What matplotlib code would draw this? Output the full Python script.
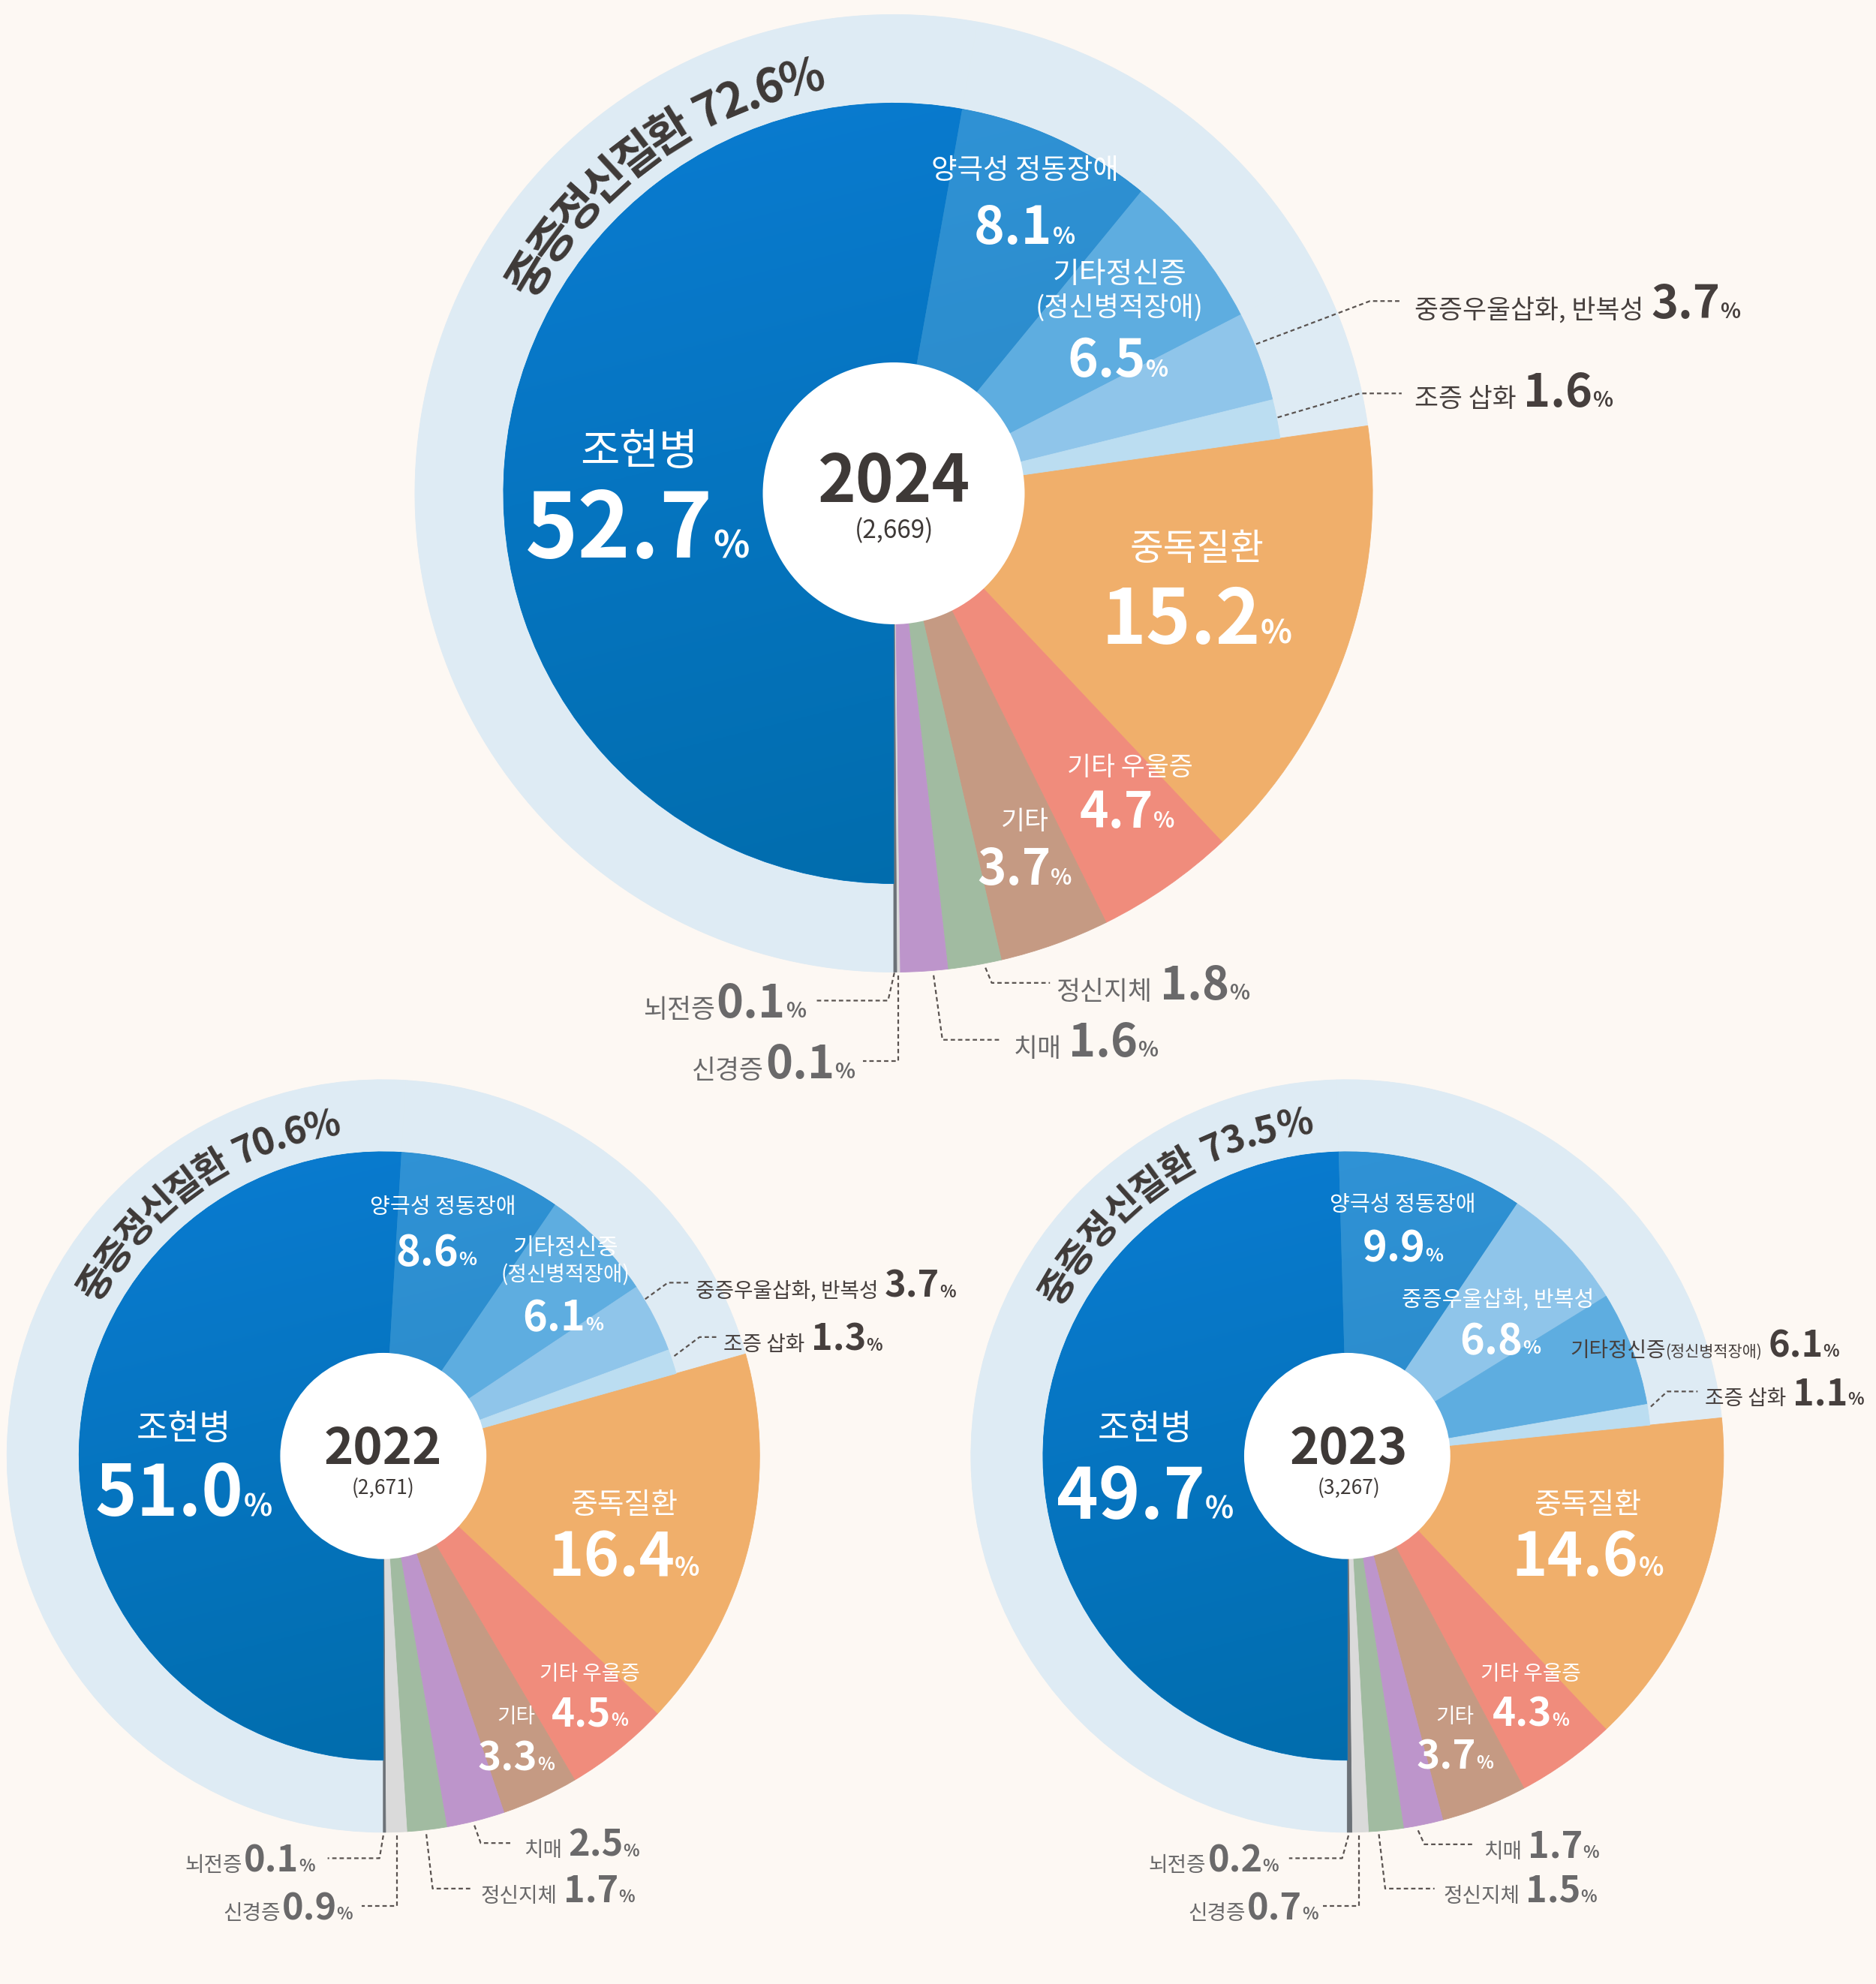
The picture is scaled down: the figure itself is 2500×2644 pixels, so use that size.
import numpy as np
import matplotlib
matplotlib.use('Agg')
import matplotlib.pyplot as plt
from matplotlib.font_manager import FontProperties
from matplotlib.colors import LinearSegmentedColormap

# ---------------- data ----------------
years = ['2022', '2023', '2024']
totals_n = ['2,671', '3,267', '2,669']
severe_share = [70.6, 73.5, 72.6]

cats_2022 = ['조현병', '양극성 정동장애', '기타정신증', '중증우울삽화', '조증 삽화',
             '중독질환', '기타 우울증', '기타', '치매', '정신지체', '신경증', '뇌전증']
vals_2022 = [51.0, 8.6, 6.1, 3.7, 1.3, 16.4, 4.5, 3.3, 2.5, 1.7, 0.9, 0.1]

cats_2023 = ['조현병', '양극성 정동장애', '중증우울삽화', '기타정신증', '조증 삽화',
             '중독질환', '기타 우울증', '기타', '치매', '정신지체', '신경증', '뇌전증']
vals_2023 = [49.7, 9.9, 6.8, 6.1, 1.1, 14.6, 4.3, 3.7, 1.7, 1.5, 0.7, 0.2]

cats_2024 = ['조현병', '양극성 정동장애', '기타정신증', '중증우울삽화', '조증 삽화',
             '중독질환', '기타 우울증', '기타', '정신지체', '치매', '신경증', '뇌전증']
vals_2024 = [52.7, 8.1, 6.5, 3.7, 1.6, 15.2, 4.7, 3.7, 1.8, 1.6, 0.1, 0.1]

n_severe = 5

# ---------------- style ----------------
W, H = 2500, 2644
S = 2500 / 1483.0
FAM = ['Noto Sans CJK KR', 'DejaVu Sans']
plt.rcParams['font.family'] = FAM

BG = '#FDF8F3'
RING = '#DEEBF4'
WHITE = '#FFFFFF'
DARK = '#3E3937'
SIDE = '#463F3D'
GRAY = '#6A696A'
LEAD = '#5A5350'
COL = {
    '조현병': '#0077C6',
    '양극성 정동장애': '#2A8CCF',
    '기타정신증': '#5EADE0',
    '중증우울삽화': '#8FC5EA',
    '조증 삽화': '#BBDDF1',
    '중독질환': '#F0AF6B',
    '기타 우울증': '#F08C7C',
    '기타': '#C59A83',
    '정신지체': '#A1BBA1',
    '치매': '#BD95CB',
    '신경증': '#DADADA',
    '뇌전증': '#6B7177',
}

fig = plt.figure(figsize=(25, 26.44), dpi=100)
fig.patch.set_facecolor(BG)
ax = fig.add_axes([0, 0, 1, 1])
ax.set_facecolor(BG)
renderer = fig.canvas.get_renderer()


def fprop(size, weight):
    return FontProperties(family=FAM, size=size, weight=weight)


def tw(s, size, weight):
    w, h, d = renderer.get_text_width_height_descent(s, fprop(size, weight), ismath=False)
    return w


def part_width(p):
    if isinstance(p, (int, float)):
        return p
    return tw(p[0], p[1], p[2])


def txt(x, y, parts, ha='center'):
    widths = [part_width(p) for p in parts]
    total = sum(widths)
    X = x * S
    if ha == 'center':
        x0 = X - total / 2
    elif ha == 'right':
        x0 = X - total
    else:
        x0 = X
    big = max(p[1] for p in parts if not isinstance(p, (int, float)))
    base = H - (y * S + 0.365 * big * 100 / 72)
    for p, wd in zip(parts, widths):
        if not isinstance(p, (int, float)):
            ax.text(x0, base, p[0], fontsize=p[1], fontweight=p[2], color=p[3],
                    ha='left', va='baseline', fontfamily=FAM, zorder=6)
        x0 += wd


def curved(cx, cy, r, a0, a1, text, size, color, weight='heavy'):
    em = size * 100 / 72
    advs = [0.30 * em if ch == ' ' else tw(ch, size, weight) for ch in text]
    advs = np.array(advs)
    cs = np.cumsum(advs) - advs / 2
    span = cs[-1] - cs[0]
    rb = r * S - 0.37 * em
    CX, CY = cx * S, H - cy * S
    for ch, c in zip(text, cs):
        if ch == ' ':
            continue
        a = a0 - (c - cs[0]) / span * (a0 - a1)
        t = np.deg2rad(a)
        ax.text(CX + rb * np.cos(t), CY + rb * np.sin(t), ch, rotation=a - 90,
                rotation_mode='anchor', ha='center', va='baseline', fontsize=size,
                fontweight=weight, color=color, fontfamily=FAM, zorder=6)


def leader(pts):
    xs = [p[0] * S for p in pts]
    ys = [H - p[1] * S for p in pts]
    ax.plot(xs, ys, color=LEAD, lw=1.6, ls=(0, (2.6, 1.8)), zorder=5)


def grad(patch, CX, CY, R, c_hi, c_lo):
    cmap = LinearSegmentedColormap.from_list('g', [c_lo, c_hi])
    yy, xx = np.mgrid[0:1:200j, 0:1:200j]
    g = 0.8 * yy + 0.2 * (1 - xx)
    im = ax.imshow(g, extent=[CX - R, CX + R, CY - R, CY + R], origin='lower',
                   cmap=cmap, aspect='auto', zorder=1.5, interpolation='bilinear')
    im.set_clip_path(patch)


def seal(wedges):
    for w in wedges:
        fc = w.get_facecolor()
        if fc[3] > 0:
            w.set_edgecolor(fc)
            w.set_linewidth(0.6)
        else:
            w.set_edgecolor('none')


def donut(cx, cy, r_ring, r_sev, r_hole, cats, vals):
    CX, CY = cx * S, H - cy * S
    Rr, Rs, Rh = r_ring * S, r_sev * S, r_hole * S
    outer = [RING if i < n_severe else COL[c] for i, c in enumerate(cats)]
    w1, _ = ax.pie(vals, radius=Rr, center=(CX, CY), startangle=270, counterclock=False,
                   colors=outer, wedgeprops=dict(linewidth=0), frame=True)
    seal(w1)
    inner = [COL[c] if i < n_severe else 'none' for i, c in enumerate(cats)]
    w2, _ = ax.pie(vals, radius=Rs, center=(CX, CY), startangle=270, counterclock=False,
                   colors=inner, wedgeprops=dict(linewidth=0), frame=True)
    seal(w2)
    grad(w2[0], CX, CY, Rs, '#0A7CD2', '#006BA9')
    grad(w2[1], CX, CY, Rs, '#3194D8', '#2483BF')
    hole, _ = ax.pie([1], radius=Rh, center=(CX, CY), colors=[WHITE],
                     wedgeprops=dict(linewidth=0), frame=True)
    for h in hole:
        h.set_zorder(3)


def numparts(v, size, color, ratio=0.45):
    return [(f'{v:.1f}', size, 'bold', color), 0,
            ('%', size * ratio, 'bold', color)]


# ---------------- 2024 ----------------
c24 = (706.5, 390)
donut(*c24, 378.5, 308.5, 103.5, cats_2024, vals_2024)
v24 = dict(zip(cats_2024, vals_2024))
curved(*c24, 338, 148.8, 102.4, f'중증정신질환 {severe_share[2]:.1f}%', 45, DARK)
txt(707, 378, [(years[2], 62, 'heavy', DARK)])
txt(707, 418, [(f'({totals_n[2]})', 24, 'normal', DARK)])
txt(810, 133, [('양극성 정동장애', 27, 'medium', WHITE)])
txt(810, 178, numparts(v24['양극성 정동장애'], 50, WHITE))
txt(885, 215, [('기타정신증', 28, 'medium', WHITE)])
txt(885, 242, [('(정신병적장애)', 26, 'medium', WHITE)])
txt(884, 283, numparts(v24['기타정신증'], 50, WHITE))
txt(505, 355, [('조현병', 41, 'medium', WHITE)])
txt(504, 415, numparts(v24['조현병'], 86, WHITE, 0.42))
txt(946, 432, [('중독질환', 35, 'medium', WHITE)])
txt(946, 487, numparts(v24['중독질환'], 73, WHITE, 0.43))
txt(893, 605, [('기타 우울증', 25, 'medium', WHITE)])
txt(891, 640, numparts(v24['기타 우울증'], 47, WHITE))
txt(810, 648, [('기타', 25, 'medium', WHITE)])
txt(810, 685, numparts(v24['기타'], 47, WHITE))
# side labels
txt(1118, 238, [('중증우울삽화, 반복성', 25, 'medium', SIDE), 10] + numparts(v24['중증우울삽화'], 44, SIDE, 0.46), ha='left')
leader([(993, 272), (1083, 238), (1108, 238)])
txt(1118, 308, [('조증 삽화', 25, 'medium', SIDE), 10] + numparts(v24['조증 삽화'], 44, SIDE, 0.46), ha='left')
leader([(1010, 330), (1075, 311), (1108, 311)])
txt(637, 791, [('뇌전증', 25, 'medium', GRAY), 2] + numparts(v24['뇌전증'], 44, GRAY, 0.46), ha='right')
leader([(707, 769), (702, 791), (645, 791)])
txt(676, 839, [('신경증', 25, 'medium', GRAY), 2] + numparts(v24['신경증'], 44, GRAY, 0.46), ha='right')
leader([(710, 771), (710, 839), (682, 839)])
txt(801, 822, [('치매', 25, 'medium', GRAY), 10] + numparts(v24['치매'], 44, GRAY, 0.46), ha='left')
leader([(738, 771), (745, 822), (791, 822)])
txt(835, 777, [('정신지체', 25, 'medium', GRAY), 10] + numparts(v24['정신지체'], 44, GRAY, 0.46), ha='left')
leader([(779, 765), (784, 777), (830, 777)])

# ---------------- 2022 ----------------
c22 = (303, 1151)
donut(*c22, 297.5, 240.5, 81.5, cats_2022, vals_2022)
v22 = dict(zip(cats_2022, vals_2022))
curved(*c22, 267, 148.8, 100.5, f'중증정신질환 {severe_share[0]:.1f}%', 36, DARK)
txt(303, 1143, [(years[0], 48, 'heavy', DARK)])
txt(303, 1175, [(f'({totals_n[0]})', 19, 'normal', DARK)])
txt(350, 953, [('양극성 정동장애', 21, 'medium', WHITE)])
txt(345, 988, numparts(v22['양극성 정동장애'], 40, WHITE))
txt(447, 985, [('기타정신증', 22, 'medium', WHITE)])
txt(447, 1007, [('(정신병적장애)', 20, 'medium', WHITE)])
txt(445, 1040, numparts(v22['기타정신증'], 40, WHITE))
txt(145, 1128, [('조현병', 33, 'medium', WHITE)])
txt(145, 1178, numparts(v22['조현병'], 68, WHITE, 0.42))
txt(493, 1188, [('중독질환', 28, 'medium', WHITE)])
txt(493, 1228, numparts(v22['중독질환'], 58, WHITE, 0.43))
txt(466, 1322, [('기타 우울증', 20, 'medium', WHITE)])
txt(466, 1353, numparts(v22['기타 우울증'], 38, WHITE))
txt(408, 1356, [('기타', 20, 'medium', WHITE)])
txt(408, 1388, numparts(v22['기타'], 38, WHITE))
txt(550, 1015, [('중증우울삽화, 반복성', 20, 'medium', SIDE), 8] + numparts(v22['중증우울삽화'], 35, SIDE, 0.46), ha='left')
leader([(510, 1027), (528, 1014), (545, 1014)])
txt(572, 1057, [('조증 삽화', 20, 'medium', SIDE), 8] + numparts(v22['조증 삽화'], 35, SIDE, 0.46), ha='left')
leader([(533, 1072), (553, 1057), (567, 1057)])
txt(249, 1469, [('뇌전증', 20, 'medium', GRAY), 2] + numparts(v22['뇌전증'], 35, GRAY, 0.46), ha='right')
leader([(303, 1451), (300, 1469), (259, 1469)])
txt(279, 1507, [('신경증', 20, 'medium', GRAY), 2] + numparts(v22['신경증'], 35, GRAY, 0.46), ha='right')
leader([(314, 1451), (314, 1507), (286, 1507)])
txt(414, 1457, [('치매', 20, 'medium', GRAY), 8] + numparts(v22['치매'], 35, GRAY, 0.46), ha='left')
leader([(375, 1443), (380, 1457), (404, 1457)])
txt(380, 1493, [('정신지체', 20, 'medium', GRAY), 8] + numparts(v22['정신지체'], 35, GRAY, 0.46), ha='left')
leader([(337, 1450), (342, 1493), (372, 1493)])

# ---------------- 2023 ----------------
c23 = (1065, 1151)
donut(*c23, 297.5, 240.5, 81.5, cats_2023, vals_2023)
v23 = dict(zip(cats_2023, vals_2023))
curved(*c23, 267, 149.6, 99.0, f'중증정신질환 {severe_share[1]:.1f}%', 36, DARK)
txt(1066, 1143, [(years[1], 48, 'heavy', DARK)])
txt(1066, 1175, [(f'({totals_n[1]})', 19, 'normal', DARK)])
txt(1109, 951, [('양극성 정동장애', 21, 'medium', WHITE)])
txt(1109, 985, numparts(v23['양극성 정동장애'], 40, WHITE))
txt(1184, 1026, [('중증우울삽화, 반복성', 21, 'medium', WHITE)])
txt(1186, 1058, numparts(v23['중증우울삽화'], 40, WHITE))
txt(905, 1128, [('조현병', 33, 'medium', WHITE)])
txt(905, 1180, numparts(v23['조현병'], 68, WHITE, 0.42))
txt(1255, 1188, [('중독질환', 28, 'medium', WHITE)])
txt(1255, 1228, numparts(v23['중독질환'], 58, WHITE, 0.43))
txt(1210, 1322, [('기타 우울증', 20, 'medium', WHITE)])
txt(1210, 1353, numparts(v23['기타 우울증'], 38, WHITE))
txt(1150, 1356, [('기타', 20, 'medium', WHITE)])
txt(1150, 1387, numparts(v23['기타'], 38, WHITE))
txt(1241, 1062, [('기타정신증', 20, 'medium', SIDE), ('(정신병적장애)', 15, 'medium', SIDE), 8]
    + numparts(v23['기타정신증'], 35, SIDE, 0.46), ha='left')
txt(1348, 1100, [('조증 삽화', 20, 'medium', SIDE), 8] + numparts(v23['조증 삽화'], 35, SIDE, 0.46), ha='left')
leader([(1305, 1112), (1318, 1100), (1342, 1100)])
txt(1011, 1469, [('뇌전증', 20, 'medium', GRAY), 2] + numparts(v23['뇌전증'], 35, GRAY, 0.46), ha='right')
leader([(1066, 1451), (1061, 1469), (1019, 1469)])
txt(1042, 1507, [('신경증', 20, 'medium', GRAY), 2] + numparts(v23['신경증'], 35, GRAY, 0.46), ha='right')
leader([(1074, 1451), (1074, 1507), (1046, 1507)])
txt(1173, 1458, [('치매', 20, 'medium', GRAY), 8] + numparts(v23['치매'], 35, GRAY, 0.46), ha='left')
leader([(1121, 1447), (1126, 1458), (1164, 1458)])
txt(1141, 1493, [('정신지체', 20, 'medium', GRAY), 8] + numparts(v23['정신지체'], 35, GRAY, 0.46), ha='left')
leader([(1090, 1450), (1095, 1493), (1134, 1493)])

ax.set_xlim(0, W)
ax.set_ylim(0, H)
ax.set_aspect('auto')
ax.axis('off')
fig.savefig('out.png', dpi=100, facecolor=BG)
